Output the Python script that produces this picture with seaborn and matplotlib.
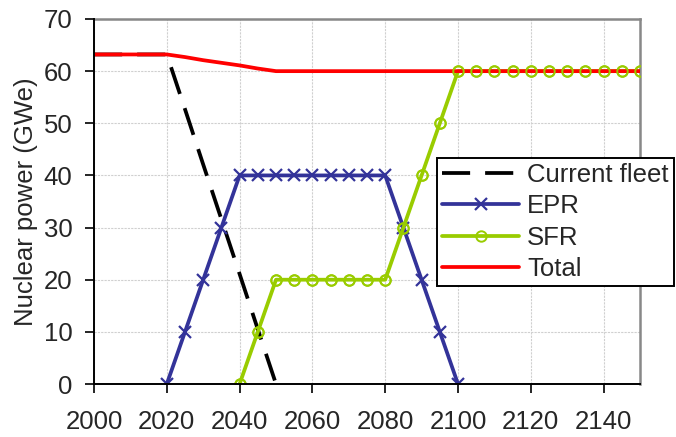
import matplotlib
matplotlib.use("Agg")
import matplotlib.pyplot as plt
import seaborn as sns
import pandas as pd

# ---- data ----
fleet_years = [2000, 2005, 2010, 2015, 2020, 2025, 2030, 2035, 2040, 2045, 2050]
fleet_vals = [63.2, 63.2, 63.2, 63.2, 63.2, 52.7, 42.1, 31.6, 21.1, 10.5, 0.0]

epr_years = [2020, 2025, 2030, 2035, 2040, 2045, 2050, 2055, 2060, 2065, 2070,
             2075, 2080, 2085, 2090, 2095, 2100]
epr_vals = [0, 10, 20, 30, 40, 40, 40, 40, 40, 40, 40, 40, 40, 30, 20, 10, 0]

sfr_years = [2040, 2045, 2050, 2055, 2060, 2065, 2070, 2075, 2080, 2085, 2090,
             2095, 2100, 2105, 2110, 2115, 2120, 2125, 2130, 2135, 2140, 2145, 2150]
sfr_vals = [0, 10, 20, 20, 20, 20, 20, 20, 20, 30, 40, 50, 60, 60, 60, 60, 60,
            60, 60, 60, 60, 60, 60]

total_years = [2000, 2005, 2010, 2015, 2020, 2025, 2030, 2035, 2040, 2045, 2050,
               2060, 2070, 2080, 2090, 2100, 2110, 2120, 2130, 2140, 2150]
total_vals = [63.2, 63.2, 63.2, 63.2, 63.2, 62.7, 62.1, 61.6, 61.1, 60.5, 60.0,
              60, 60, 60, 60, 60, 60, 60, 60, 60, 60]

labels = ["Current fleet", "EPR", "SFR", "Total"]
x_ticks = [2000, 2020, 2040, 2060, 2080, 2100, 2120, 2140]
y_ticks = [0, 10, 20, 30, 40, 50, 60, 70]
y_label = "Nuclear power (GWe)"

# ---- styling ----
sns.set_style("white")
plt.rcParams["font.family"] = ["Liberation Sans", "DejaVu Sans"]
FS = 18.5

fig = plt.figure(figsize=(6.76, 4.37), dpi=100)
ax = fig.add_axes([94 / 676, 1 - 384 / 437, (640 - 94) / 676, (384 - 19) / 437])

c_fleet, c_epr, c_sfr, c_tot = "#000000", "#333399", "#99CC00", "#FF0000"
lw = 2.7

df_f = pd.DataFrame({"x": fleet_years, "y": fleet_vals})
df_e = pd.DataFrame({"x": epr_years, "y": epr_vals})
df_s = pd.DataFrame({"x": sfr_years, "y": sfr_vals})
df_t = pd.DataFrame({"x": total_years, "y": total_vals})

sns.lineplot(data=df_f, x="x", y="y", ax=ax, color=c_fleet, lw=lw,
             linestyle=(0, (7.5, 4.0)), label=labels[0], zorder=2)
sns.lineplot(data=df_e, x="x", y="y", ax=ax, color=c_epr, lw=lw,
             marker="x", markersize=9, markeredgewidth=1.6,
             markeredgecolor=c_epr, label=labels[1], zorder=3)
sns.lineplot(data=df_s, x="x", y="y", ax=ax, color=c_sfr, lw=lw,
             marker="o", markersize=7.5, markerfacecolor="none",
             markeredgewidth=1.4, markeredgecolor=c_sfr, label=labels[2], zorder=3)
sns.lineplot(data=df_t, x="x", y="y", ax=ax, color=c_tot, lw=lw,
             label=labels[3], zorder=4)
# SFR markers drawn over the total line
sns.lineplot(data=df_s, x="x", y="y", ax=ax, color=c_sfr, linestyle="none",
             marker="o", markersize=7.5, markerfacecolor="none",
             markeredgewidth=1.4, markeredgecolor=c_sfr, legend=False, zorder=5)

ax.set_xlim(2000, 2150)
ax.set_ylim(0, 70)
ax.set_xticks(x_ticks)
ax.set_yticks(y_ticks)
ax.set_xlabel("")
ax.set_ylabel(y_label, fontsize=FS, labelpad=4)

ax.grid(True, color="#d0d0d0", lw=0.8, linestyle=(0, (2, 1)))
ax.set_axisbelow(True)

for s in ["left", "bottom"]:
    ax.spines[s].set_color("black")
    ax.spines[s].set_linewidth(1.4)
    ax.spines[s].set_zorder(6)
for s in ["top", "right"]:
    ax.spines[s].set_color("#888888")
    ax.spines[s].set_linewidth(1.8)

ax.tick_params(axis="both", which="major", direction="out", length=6.5,
               width=1.2, color="black", labelsize=FS)
ax.tick_params(axis="y", pad=9, left=True)
ax.tick_params(axis="x", pad=12.5, bottom=True)

leg = ax.legend(loc="upper left", bbox_to_anchor=(437 / 676, 1 - 158 / 437),
                bbox_transform=fig.transFigure, fontsize=FS, frameon=True,
                fancybox=False, shadow=False, borderpad=0.2,
                handlelength=3.0, handletextpad=0.3, labelspacing=0.28,
                borderaxespad=0.0)
leg.get_frame().set_edgecolor("black")
leg.get_frame().set_linewidth(1.4)
leg.get_frame().set_alpha(1.0)

fig.savefig("out.png", dpi=100)
